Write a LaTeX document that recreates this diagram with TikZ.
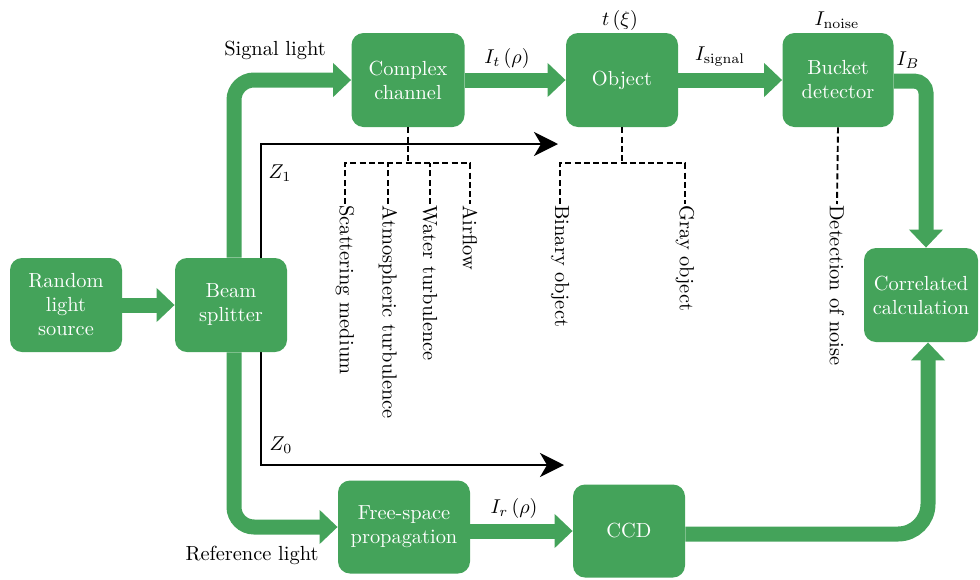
\documentclass[tikz,border=0pt]{standalone}
\usetikzlibrary{arrows.meta}
\definecolor{bgreen}{RGB}{68,163,90}
\begin{document}
\begin{tikzpicture}[x=0.5pt,y=-0.5pt,
  every node/.style={font=\fontsize{10.2}{12.5}\selectfont},
  box/.style={fill=bgreen, rounded corners=6pt, text=white, align=center, inner sep=0pt, font=\fontsize{10.2}{12}\selectfont},
  garrow/.style={draw=bgreen, line width=7.5pt, -{Triangle[length=9pt,width=16.5pt]}},
  karrow/.style={draw=black, line width=1pt, {Stealth[length=12pt,width=12pt,inset=3.5pt]}-{Stealth[length=12pt,width=12pt,inset=3.5pt]}},
  dline/.style={draw=black, line width=0.95pt, dash pattern=on 3pt off 1.6pt},
  vlabel/.style={rotate=-90, anchor=west, inner sep=0.5pt},
  lab/.style={inner sep=0pt}]
\useasboundingbox (0,0) rectangle (980,579);

% black axis arrows (behind the boxes)
\coordinate (z1e) at (558,144);
\coordinate (zt) at (261,144);
\coordinate (zb) at (261,465);
\coordinate (z0e) at (564,465);
\draw[karrow] (z1e) -- (zt) -- (zb) -- (z0e);

% boxes
\node[box, minimum width=56pt, minimum height=47pt] (src) at (66,305) {Random\\light\\source};
\node[box, minimum width=56pt, minimum height=47pt] (bs) at (231,305) {Beam\\splitter};
\node[box, minimum width=56.5pt, minimum height=47pt] (cc) at (408,80) {Complex\\channel};
\node[box, minimum width=56pt, minimum height=47pt] (obj) at (622,80) {Object};
\node[box, minimum width=55.5pt, minimum height=47pt] (bd) at (838,80) {Bucket\\detector};
\node[box, minimum width=57pt, minimum height=47pt] (corr) at (921,295) {Correlated\\calculation};
\node[box, minimum width=66pt, minimum height=46.5pt] (fsp) at (404,527) {Free-space\\propagation};
\node[box, minimum width=56pt, minimum height=46.5pt] (ccd) at (629,531) {CCD};

% green arrows
\draw[garrow] (src.east) -- (bs.west);
\draw[garrow, rounded corners=10pt] ([xshift=1.5pt]bs.north) |- (cc.west);
\draw[garrow, rounded corners=10pt] ([xshift=1.5pt]bs.south) |- (fsp.west);
\draw[garrow] (cc.east) -- (obj.west);
\draw[garrow] (obj.east) -- (bd.west);
\draw[garrow] (fsp.east |- ccd.west) -- (ccd.west);
\draw[garrow, rounded corners=6pt] ([yshift=-0.5pt]bd.east) -| ([xshift=2.5pt]corr.north);
\draw[garrow, rounded corners=15pt] ([yshift=-1.5pt]ccd.east) -| ([xshift=3.5pt]corr.south);

% labels
\node[lab] (sl) at (275,50) {Signal light};
\node[lab] (rl) at (252,555) {Reference light};
\node[lab] (it) at (507,58) {$I_t\,(\rho)$};
\node[lab] (txi) at (620,20) {$t\,(\xi)$};
\node[lab] (isig) at (720,57) {$I_{\mathrm{signal}}$};
\node[lab] (inoise) at (837,20) {$I_{\mathrm{noise}}$};
\node[lab] (ib) at (908,60) {$I_B$};
\node[lab] (ir) at (514,508) {$I_r\,(\rho)$};
\node[lab] (z1) at (280,173) {$Z_1$};
\node[lab] (z0) at (281,445) {$Z_0$};

% vertical labels
\node[vlabel] (sm) at (345,204) {Scattering medium};
\node[vlabel] (at) at (388,204) {Atmospheric turbulence};
\node[vlabel] (wt) at (430,204) {Water turbulence};
\node[vlabel] (af) at (470,204) {Airflow};
\node[vlabel] (bo) at (560,204) {Binary object};
\node[vlabel] (go) at (685,204) {Gray object};
\node[vlabel] (dn) at (837,204) {Detection of noise};

% dashed trees
\draw[dline] (cc.south) -- ++(0,36) coordinate (ccj);
\draw[dline] (sm.west) -- (sm.west |- ccj) -- (af.west |- ccj) -- (af.west);
\draw[dline] (at.west) -- (at.west |- ccj);
\draw[dline] (wt.west) -- (wt.west |- ccj);
\draw[dline] (obj.south) -- ++(0,36) coordinate (objj);
\draw[dline] (bo.west) -- (bo.west |- objj) -- (go.west |- objj) -- (go.west);
\draw[dline] (bd.south) -- (dn.west);
\end{tikzpicture}
\end{document}
